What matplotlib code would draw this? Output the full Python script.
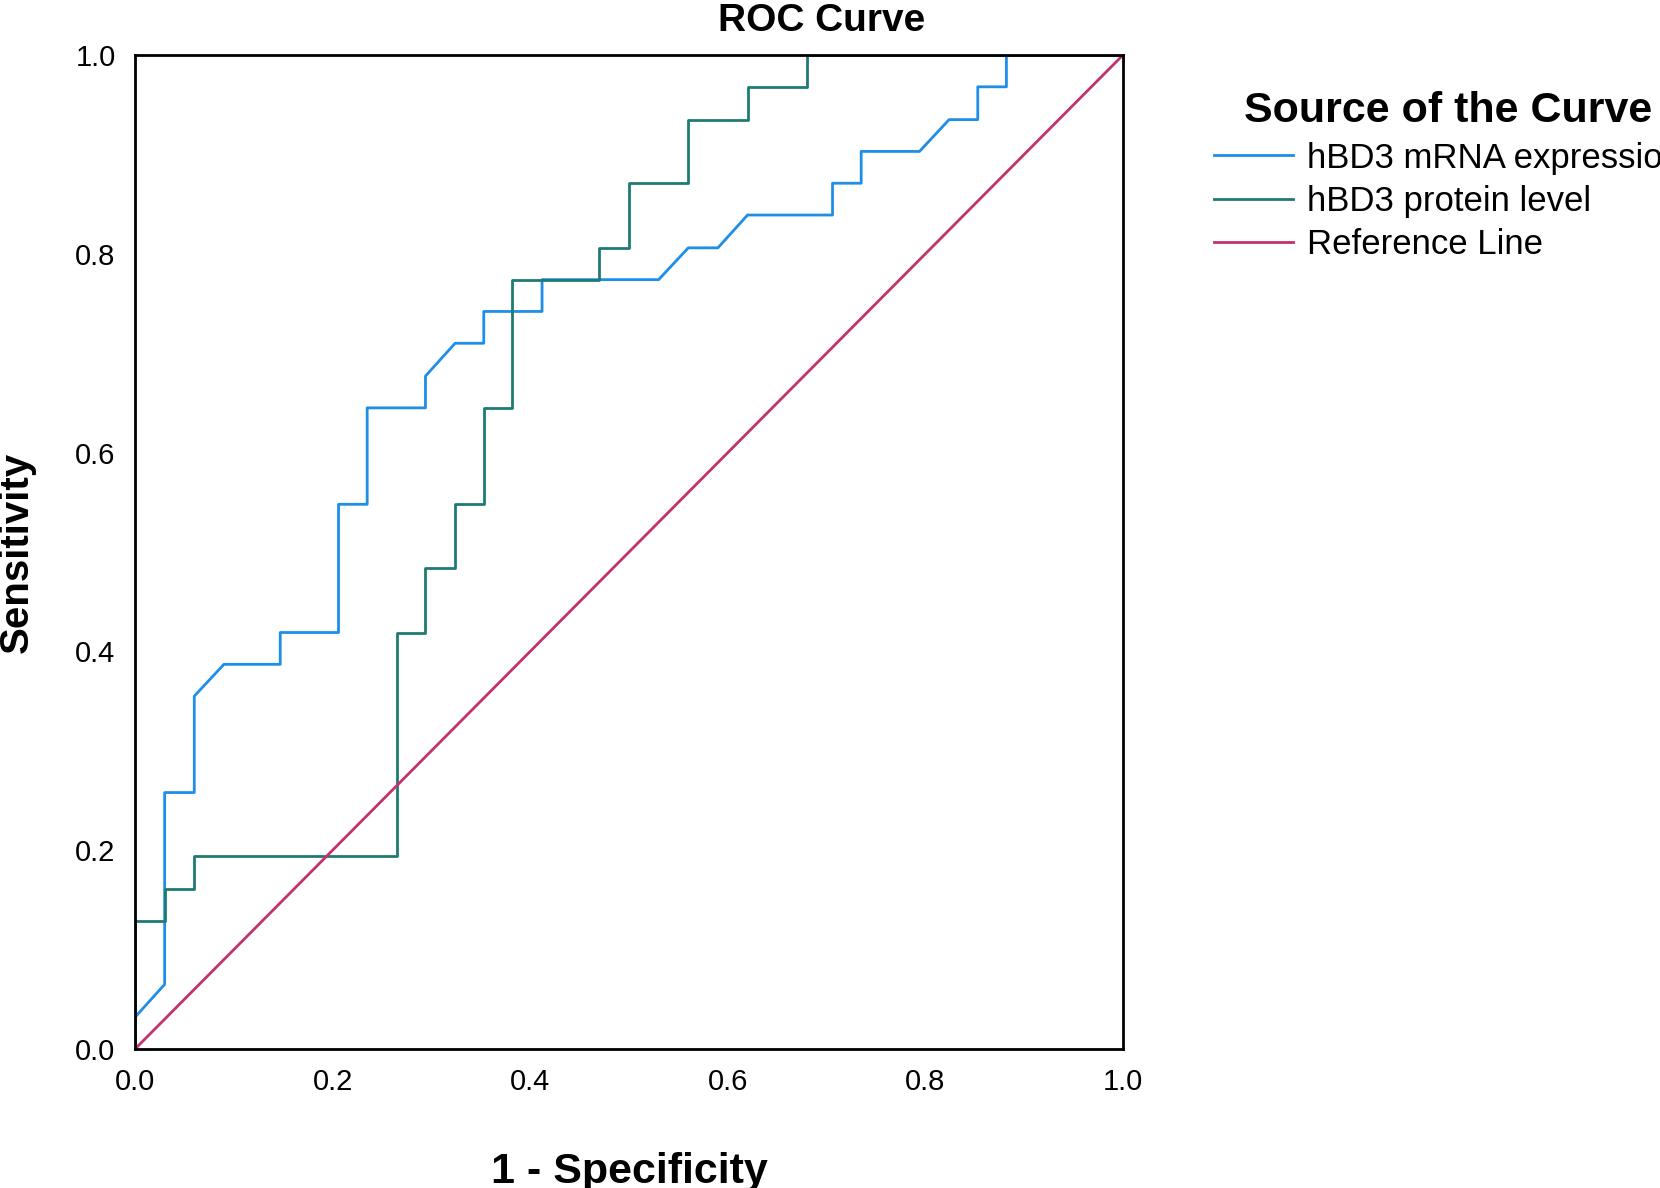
import matplotlib.pyplot as plt

mrna_x = [0, 0.03, 0.03, 0.06, 0.06, 0.09, 0.147, 0.147, 0.206, 0.206, 0.235, 0.235, 0.294, 0.294,
          0.324, 0.353, 0.353, 0.412, 0.412, 0.53, 0.56, 0.59, 0.62, 0.706, 0.706, 0.735, 0.735,
          0.794, 0.824, 0.853, 0.853, 0.882, 0.882, 1.0]
mrna_y = [0.032, 0.065, 0.258, 0.258, 0.355, 0.387, 0.387, 0.419, 0.419, 0.548, 0.548, 0.645, 0.645, 0.677,
          0.71, 0.71, 0.742, 0.742, 0.774, 0.774, 0.806, 0.806, 0.839, 0.839, 0.871, 0.871, 0.903,
          0.903, 0.935, 0.935, 0.968, 0.968, 1.0, 1.0]

prot_x = [0, 0, 0.03, 0.03, 0.06, 0.06, 0.265, 0.265, 0.294, 0.294, 0.324, 0.324, 0.353, 0.353,
          0.382, 0.382, 0.47, 0.47, 0.5, 0.5, 0.56, 0.56, 0.62, 0.62, 0.68, 0.68, 1.0]
prot_y = [0, 0.129, 0.129, 0.161, 0.161, 0.194, 0.194, 0.419, 0.419, 0.484, 0.484, 0.548, 0.548, 0.645,
          0.645, 0.774, 0.774, 0.806, 0.806, 0.871, 0.871, 0.935, 0.935, 0.968, 0.968, 1.0, 1.0]

ref = [0, 1]

plt.rcParams['font.family'] = ['Liberation Sans', 'DejaVu Sans']
fig = plt.figure(figsize=(16.6, 11.88), dpi=100)
ax = fig.add_axes([135/1660, 1 - 1049/1188, (1123-135)/1660, (1049-55)/1188])

ax.plot(mrna_x, mrna_y, color='#1e8ee6', lw=2, label='hBD3 mRNA expression')
ax.plot(prot_x, prot_y, color='#1f7a72', lw=2, label='hBD3 protein level')
ax.plot(ref, ref, color='#c2326e', lw=2, label='Reference Line')

ax.set_xlim(0, 1)
ax.set_ylim(0, 1)
ticks = [0.0, 0.2, 0.4, 0.6, 0.8, 1.0]
ax.set_xticks(ticks)
ax.set_yticks(ticks)
ax.set_xticklabels([f'{t:.1f}' for t in ticks])
ax.set_yticklabels([f'{t:.1f}' for t in ticks])
ax.tick_params(labelsize=21, length=0, pad=14)
for s in ax.spines.values():
    s.set_linewidth(2)
fig.text(0.495, 0.982, 'ROC Curve', fontsize=28, fontweight='bold', ha='center', va='center')
ax.set_xlabel('1 - Specificity', fontsize=31, fontweight='bold', labelpad=40)
ax.set_ylabel('Sensitivity', fontsize=29, fontweight='bold', labelpad=28)

leg = ax.legend(loc='upper left', bbox_to_anchor=(1.06, 0.995), frameon=False, fontsize=25,
                title='Source of the Curve', handlelength=2.3, handletextpad=0.4,
                labelspacing=0.3)
leg.get_title().set_fontsize(31)
leg.get_title().set_fontweight('bold')

fig.savefig('out.png')
